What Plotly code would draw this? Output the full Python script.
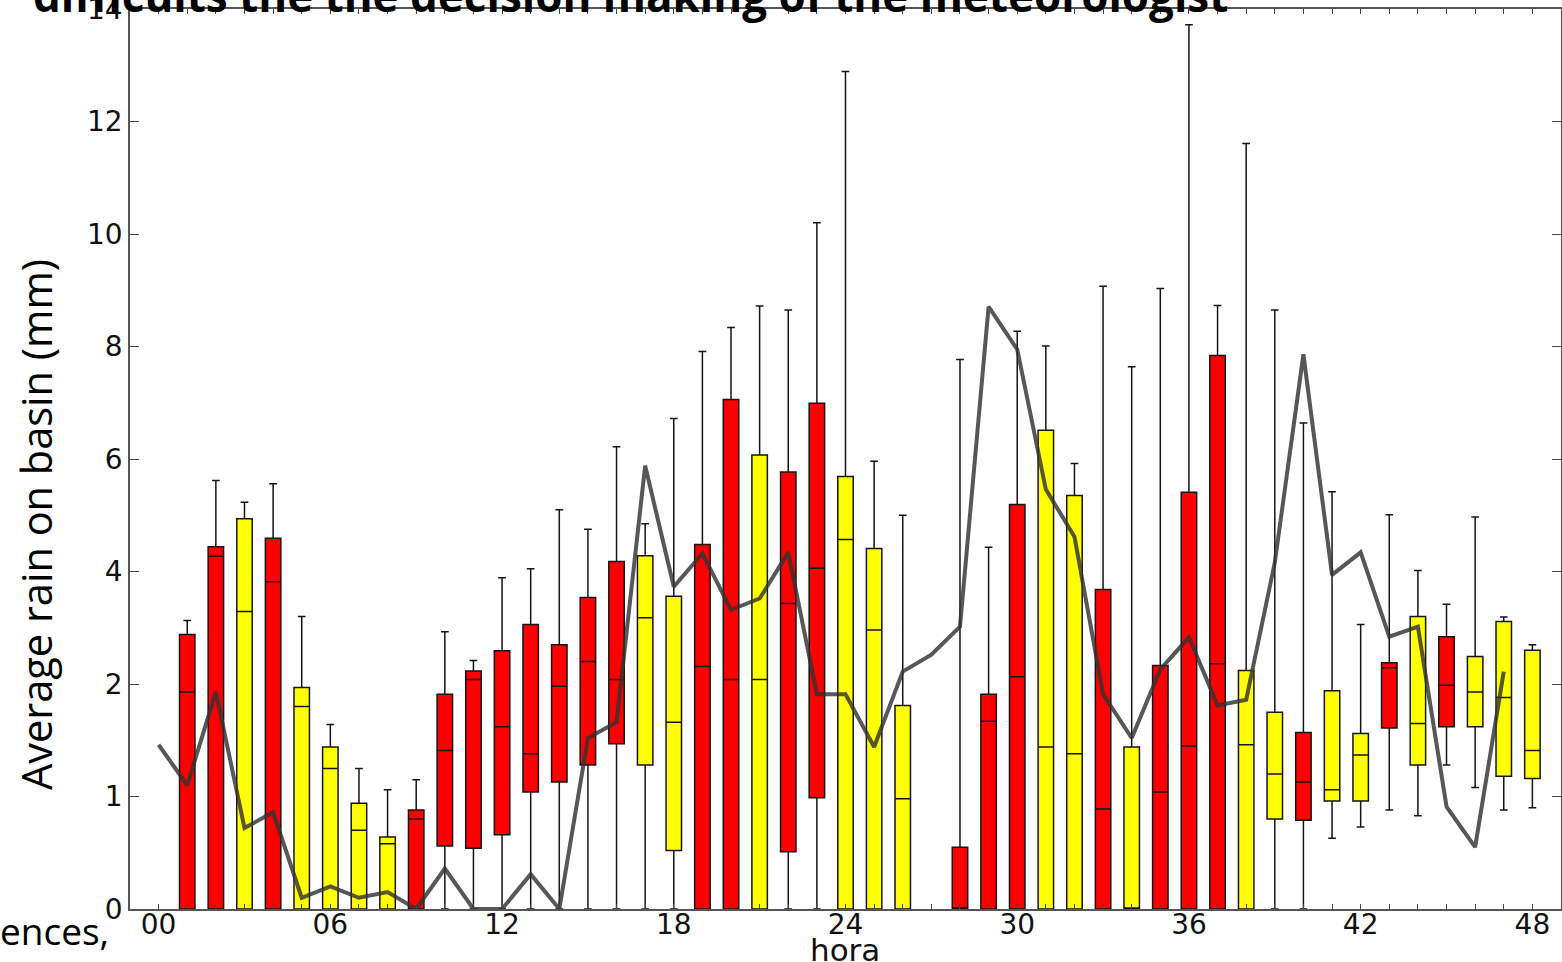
import plotly.graph_objects as go

# ---------------- data (mm) ----------------
box_hours = [1, 2, 3, 4, 5, 6, 7, 8, 9, 10, 11, 12, 13, 14, 15, 16, 17, 18, 19, 20, 21, 22, 23, 24,
             25, 26, 28, 29, 30, 31, 32, 33, 34, 35, 36, 37, 38, 39, 40, 41, 42, 43, 44, 45, 46, 47, 48]
box_color = ["R", "R", "Y", "R", "Y", "Y", "Y", "Y", "R", "R", "R", "R", "R", "R", "R", "R", "Y", "Y",
             "R", "R", "Y", "R", "R", "Y", "Y", "Y", "R", "R", "R", "Y", "Y", "R", "Y", "R", "R", "R",
             "Y", "Y", "R", "Y", "Y", "R", "Y", "R", "Y", "Y", "Y"]
box_q1 = [0, 0, 0, 0, 0, 0, 0, 0, 0, 0.56, 0.54, 0.66, 1.04, 1.13, 1.28, 1.47, 1.28, 0.52,
          0, 0, 0, 0.51, 0.99, 0, 0, 0, 0, 0, 0, 0, 0, 0, 0, 0, 0, 0,
          0, 0.80, 0.79, 0.96, 0.96, 1.61, 1.28, 1.62, 1.62, 1.18, 1.16]
box_med = [1.93, 4.27, 3.29, 3.82, 1.80, 1.25, 0.70, 0.58, 0.80, 1.41, 2.08, 1.62, 1.38, 1.98, 2.40, 2.08, 3.18, 1.66,
           2.31, 2.08, 2.08, 3.43, 4.06, 4.57, 2.96, 0.98, 0, 1.67, 2.13, 1.44, 1.38, 0.89, 0, 1.04, 1.45, 2.36,
           1.46, 1.20, 1.13, 1.06, 1.37, 2.29, 1.65, 1.99, 1.93, 1.88, 1.41]
box_q3 = [2.88, 4.44, 4.94, 4.59, 1.97, 1.44, 0.94, 0.64, 0.88, 1.91, 2.23, 2.59, 3.06, 2.70, 3.54, 4.18, 4.28, 3.56,
          4.48, 7.06, 6.07, 5.77, 6.99, 5.69, 4.41, 1.81, 0.55, 1.91, 5.19, 6.51, 5.35, 3.68, 1.44, 2.33, 5.41, 7.84,
          2.24, 1.75, 1.57, 1.94, 1.56, 2.38, 3.20, 2.84, 2.49, 3.11, 2.60]
box_low = [0, 0, 0, 0, 0, 0, 0, 0, 0, 0, 0, 0, 0, 0, 0, 0, 0, 0,
           0, 0, 0, 0, 0, 0, 0, 0, 0, 0, 0, 0, 0, 0, 0, 0, 0, 0,
           0, 0, 0, 0.63, 0.73, 0.88, 0.83, 1.28, 1.08, 0.88, 0.90]
box_high = [3.13, 5.62, 5.23, 5.56, 3.20, 1.64, 1.25, 1.06, 1.15, 2.93, 2.42, 3.89, 4.05, 5.10, 4.75, 6.22, 4.85, 6.72,
            7.91, 8.34, 8.72, 8.65, 10.20, 12.89, 5.96, 5.00, 7.77, 4.43, 8.27, 8.01, 5.92, 9.07, 7.64, 9.03, 13.72, 8.73,
            11.61, 8.65, 6.64, 5.42, 3.06, 5.01, 4.02, 3.42, 4.97, 3.19, 2.70]

line_hours = list(range(0, 48))
line_vals = [1.46, 1.10, 1.93, 0.72, 0.86, 0.10, 0.20, 0.10, 0.15, 0.00, 0.36, 0.00, 0.00, 0.31, 0.00, 1.52,
             1.66, 5.88, 3.73, 4.32, 3.32, 3.52, 4.34, 1.91, 1.91, 1.44, 2.22, 2.52, 3.02, 8.71, 7.95, 5.46,
             4.62, 1.91, 1.52, 2.26, 2.83, 1.81, 1.86, 4.16, 7.86, 3.94, 4.34, 2.84, 3.02, 0.91, 0.55, 2.22]

y_tick_values = [0, 1, 2, 4, 6, 8, 10, 12, 14]
x_tick_hours = list(range(0, 49))


# axis scale of the original: 0-2 mm linear, then 2 mm per tick step
def to_axis(v):
    return v if v <= 2 else 1 + v / 2.0


fill = {"R": "#ff0000", "Y": "#ffff00"}

fig = go.Figure()
for code in ["R", "Y"]:
    idx = [i for i, c in enumerate(box_color) if c == code]
    fig.add_trace(go.Box(
        x=[box_hours[i] for i in idx],
        q1=[to_axis(box_q1[i]) for i in idx],
        median=[to_axis(box_med[i]) for i in idx],
        q3=[to_axis(box_q3[i]) for i in idx],
        lowerfence=[to_axis(box_low[i]) for i in idx],
        upperfence=[to_axis(box_high[i]) for i in idx],
        fillcolor=fill[code],
        line=dict(color="#151515", width=1.5),
        width=0.54,
        whiskerwidth=0.5,
        boxpoints=False,
        showlegend=False,
        hoverinfo="skip",
    ))

fig.add_trace(go.Scatter(
    x=line_hours,
    y=[to_axis(v) for v in line_vals],
    mode="lines",
    line=dict(color="rgba(50,50,50,0.82)", width=4),
    showlegend=False,
    hoverinfo="skip",
))

axis_common = dict(
    showline=True, linecolor="#555555", linewidth=1.5, mirror="ticks",
    ticks="inside", tickcolor="#444444", tickwidth=1,
    showgrid=False, zeroline=False, automargin=False,
    ticklabeloverflow="allow",
    tickfont=dict(family="DejaVu Sans", size=28, color="#111111"),
)

fig.update_xaxes(
    range=[-1, 49],
    tickmode="array",
    tickvals=x_tick_hours,
    ticktext=[f"{h:02d}" if h % 6 == 0 else "" for h in x_tick_hours],
    ticklen=5,
    ticklabelstandoff=-10,
    **axis_common,
)
fig.update_yaxes(
    range=[0, 8],
    tickmode="array",
    tickvals=[to_axis(v) for v in y_tick_values],
    ticktext=[str(v) for v in y_tick_values],
    ticklen=9,
    **axis_common,
)

W, H = 1562, 962
L, R, T, B = 130, 1, 9, 53
pw, ph = W - L - R, H - T - B


def px_x(px):
    return (px - L) / pw


def px_y(py):
    return (H - B - py) / ph


fig.add_annotation(
    text="difficults the the decision making of the meteorologist",
    x=px_x(31), y=px_y(-5), xref="paper", yref="paper",
    xanchor="left", yanchor="middle", showarrow=False,
    font=dict(family="Open Sans", size=44, color="#000000", weight="bold"),
)
fig.add_annotation(
    text="ences,",
    x=px_x(-2), y=px_y(930), xref="paper", yref="paper",
    xanchor="left", yanchor="middle", showarrow=False,
    font=dict(family="Open Sans", size=37, color="#000000"),
)
fig.add_annotation(
    text="Average rain on basin (mm)",
    x=px_x(36), y=px_y(525), xref="paper", yref="paper",
    xanchor="center", yanchor="middle", showarrow=False, textangle=-90,
    font=dict(family="Open Sans", size=41.5, color="#000000"),
)
fig.add_annotation(
    text="hora",
    x=px_x(845), y=px_y(950), xref="paper", yref="paper",
    xanchor="center", yanchor="middle", showarrow=False,
    font=dict(family="DejaVu Sans", size=31, color="#111111"),
)

fig.update_layout(
    width=W, height=H, autosize=False,
    margin=dict(l=L, r=R, t=T, b=B, pad=0, autoexpand=False),
    paper_bgcolor="white", plot_bgcolor="white",
    boxmode="overlay",
)

fig.write_html("out.html", config={"displayModeBar": False})
